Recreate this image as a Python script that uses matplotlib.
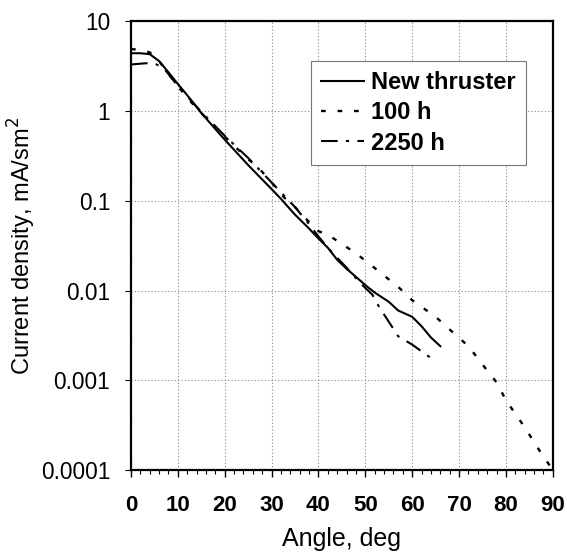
import matplotlib
matplotlib.use('Agg')
import matplotlib.pyplot as plt
from matplotlib.ticker import FixedLocator, MultipleLocator, FixedFormatter

plt.rcParams['font.family'] = ['Liberation Sans', 'DejaVu Sans']

# Data
angle_new = [0, 2, 4, 6, 8, 10, 12, 15, 20, 25, 30, 32, 35, 38, 40, 42, 44, 46, 48,
             50, 52, 55, 57, 60, 62, 64, 66]
current_new = [4.4, 4.4, 4.3, 3.6, 2.7, 2.0, 1.5, 0.95, 0.48, 0.25, 0.135, 0.105, 0.07,
               0.049, 0.038, 0.03, 0.022, 0.0175, 0.0142, 0.0115, 0.0095, 0.0075, 0.006,
               0.0051, 0.004, 0.003, 0.0024]

angle_100 = [0, 2, 4, 6, 8, 10, 12, 15, 18, 20, 25, 27, 30, 32.6, 35, 38, 40, 42.6, 45.4,
             48, 52.5, 57, 60, 65, 69, 72, 75, 78, 80, 84, 87, 90]
current_100 = [4.9, 4.8, 4.5, 3.6, 2.6, 1.9, 1.4, 0.95, 0.66, 0.52, 0.29, 0.24, 0.16, 0.11,
               0.085, 0.058, 0.046, 0.04, 0.032, 0.026, 0.017, 0.011, 0.0078, 0.0051,
               0.0033, 0.0024, 0.0015, 0.00095, 0.0006, 0.0003, 0.00017, 0.0001]

angle_2250 = [0, 3, 5, 7, 10, 15, 20, 25, 30, 35, 38, 40, 42.5, 46, 49, 51.5, 53, 55, 57,
              60, 62, 64.5]
current_2250 = [3.3, 3.4, 3.4, 3.0, 1.9, 0.98, 0.53, 0.3, 0.16, 0.085, 0.055, 0.04, 0.028,
                0.018, 0.012, 0.009, 0.0065, 0.0045, 0.0031, 0.0025, 0.0021, 0.0017]

y_ticks = [0.0001, 0.001, 0.01, 0.1, 1, 10]
y_tick_labels = ['0.0001', '0.001', '0.01', '0.1', '1', '10']
x_ticks = [0, 10, 20, 30, 40, 50, 60, 70, 80, 90]

fig = plt.figure(figsize=(5.67, 5.59), dpi=100)
ax = fig.add_axes([0.231, 0.159, 0.744, 0.803])

ax.plot(angle_new, current_new, color='black', lw=1.5, ls='-', label='New thruster')
ax.plot(angle_100, current_100, color='black', lw=1.7, ls=(0, (2, 5)), label='100 h')
ax.plot(angle_2250, current_2250, color='black', lw=1.5, ls=(0, (8, 4, 1.5, 4)),
        label='2250 h')

ax.set_yscale('log')
ax.set_xlim(0, 90)
ax.set_ylim(0.0001, 10)

ax.xaxis.set_major_locator(FixedLocator(x_ticks))
ax.xaxis.set_minor_locator(MultipleLocator(2))
ax.yaxis.set_major_locator(FixedLocator(y_ticks))
ax.yaxis.set_major_formatter(FixedFormatter(y_tick_labels))
ax.yaxis.set_minor_locator(FixedLocator([]))

ax.tick_params(axis='x', which='major', direction='out', length=5, width=1,
               labelsize=16, pad=13)
ax.tick_params(axis='x', which='minor', direction='out', length=3, width=0.8)
ax.tick_params(axis='y', which='major', direction='out', length=4, width=0.8,
               labelsize=16.3, pad=11)
for lbl in ax.get_xticklabels():
    lbl.set_fontweight('bold')

for s in ax.spines.values():
    s.set_linewidth(1.6)

ax.grid(True, which='major', color='#888888', ls=(0, (1, 2)), lw=0.8)

ax.set_xlabel('Angle, deg', fontsize=18, labelpad=8)
ax.set_ylabel('Current density, mA/sm$^2$', fontsize=17, labelpad=2)

leg = ax.legend(loc='upper left', bbox_to_anchor=(0.426, 0.912), borderaxespad=0,
                fancybox=False, frameon=True, handlelength=1.8, handletextpad=0.3,
                labelspacing=0.3, borderpad=0.45,
                prop={'weight': 'bold', 'size': 17})
leg.get_frame().set_edgecolor('#777777')
leg.get_frame().set_linewidth(0.8)
leg.get_frame().set_alpha(1)

fig.savefig('out.png', dpi=100)
